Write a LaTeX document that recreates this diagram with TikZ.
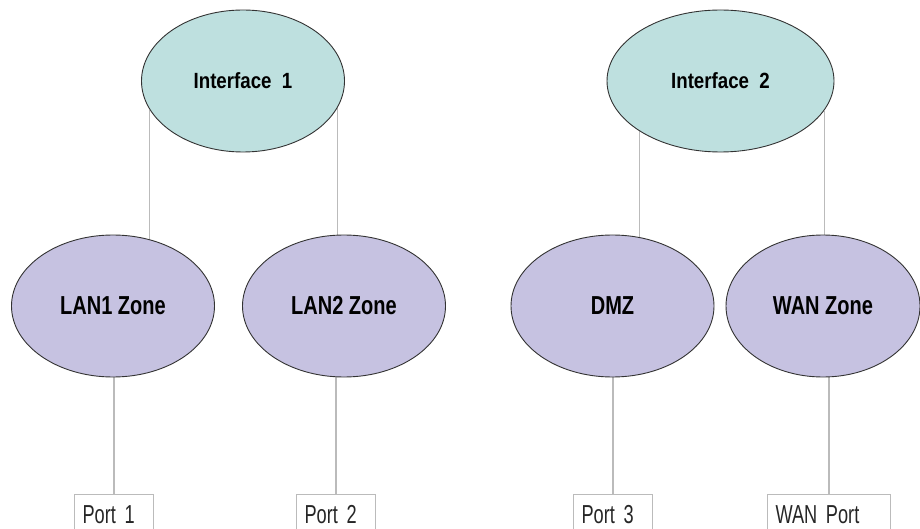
\documentclass[tikz,border=0pt]{standalone}
\usepackage{fontspec}
\newfontfamily\zonefont[FakeStretch=0.77]{Liberation Sans}
\newfontfamily\ifacefont[FakeStretch=0.85]{Liberation Sans}
\newfontfamily\portfont[FakeStretch=0.70]{Liberation Sans}
\usetikzlibrary{shapes.geometric,backgrounds}
\definecolor{ifacefill}{HTML}{BEE0DF}
\definecolor{zonefill}{HTML}{C6C2E1}
\definecolor{linkgray}{HTML}{BBBBBB}

\begin{document}
\begin{tikzpicture}[
    x=1pt, y=-1pt,
    iface/.style={ellipse, draw=black!80, fill=ifacefill, line width=0.9pt,
                  minimum width=203pt, minimum height=142pt, inner sep=0pt,
                  font=\ifacefont\bfseries\fontsize{22}{26}\selectfont},
    zone/.style={ellipse, draw=black!80, fill=zonefill, line width=0.9pt,
                 minimum width=203pt, minimum height=142pt, inner sep=0pt,
                 font=\zonefont\bfseries\fontsize{26}{30}\selectfont},
    port/.style={draw=linkgray, line width=1pt, anchor=north west,
                  inner xsep=8pt, inner ysep=11pt, text width=#1, align=left,
                  text=black!85, font=\portfont\fontsize{26}{30}\selectfont},
    link/.style={draw=linkgray, line width=1.1pt}
]
\useasboundingbox (0,0) rectangle (920,529);

\node[iface] (if1) at (243,81) {Interface\ \ 1};
\node[iface, minimum width=227pt] (if2) at (720.5,81) {Interface\ \ 2};

\node[zone] (lan1) at (113,306) {LAN1 Zone};
\node[zone] (lan2) at (344,306) {LAN2 Zone};
\node[zone] (dmz) at (612.5,306) {DMZ};
\node[zone, minimum width=194pt] (wan) at (823,306) {WAN Zone};

\node[port=63pt] (port1) at (74,494) {Port 1};
\node[port=63pt] (port2) at (296,494) {Port 2};
\node[port=63pt] (port3) at (573,494) {Port 3};
\node[port=107pt] (wanport) at (767,494) {WAN Port};

\begin{scope}[on background layer]
\draw[link] (if1.197) -- (if1.197 |- lan1.center);
\draw[link] (if1.344) -- (if1.344 |- lan2.center);
\draw[link] (if2.212) -- (if2.212 |- dmz.center);
\draw[link] (if2.344) -- (if2.344 |- wan.center);
\draw[link] (port1.north) -- (port1.north |- lan1.center);
\draw[link] (port2.north) -- (port2.north |- lan2.center);
\draw[link] (port3.north) -- (port3.north |- dmz.center);
\draw[link] (wanport.north) -- (wanport.north |- wan.center);
\end{scope}
\end{tikzpicture}
\end{document}
